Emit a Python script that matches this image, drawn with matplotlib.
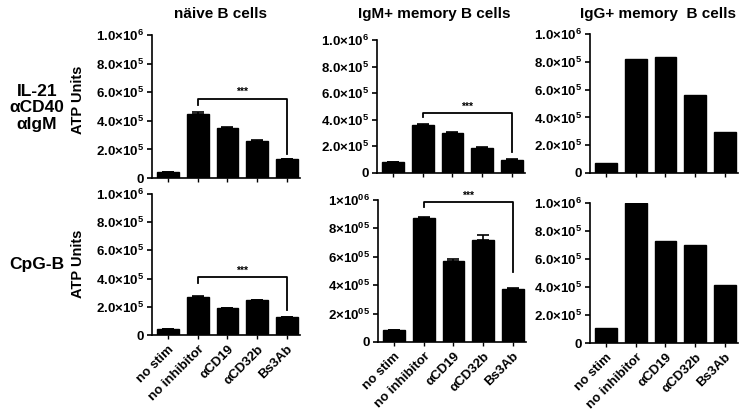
import matplotlib
matplotlib.use('Agg')
import matplotlib.pyplot as plt
import numpy as np

plt.rcParams['font.family'] = ['Liberation Sans', 'DejaVu Sans']
plt.rcParams['font.weight'] = 'bold'
plt.rcParams['mathtext.fontset'] = 'custom'
plt.rcParams['mathtext.rm'] = 'Liberation Sans:bold'
plt.rcParams['mathtext.it'] = 'Liberation Sans:bold'
plt.rcParams['mathtext.bf'] = 'Liberation Sans:bold'

# conditions on the x axis
categories = ['no stim', 'no inhibitor', 'αCD19', 'αCD32b', 'Bs3Ab']
col_titles = ['näive B cells', 'IgM+ memory B cells', 'IgG+ memory  B cells']
row_titles = ['IL-21\nαCD40\nαIgM', 'CpG-B']

# ATP units
naive_il21 = [0.04e6, 0.45e6, 0.35e6, 0.26e6, 0.13e6]
naive_il21_err = [0.002e6, 0.012e6, 0.004e6, 0.003e6, 0.004e6]
igm_il21 = [0.08e6, 0.36e6, 0.30e6, 0.19e6, 0.10e6]
igm_il21_err = [0.002e6, 0.006e6, 0.008e6, 0.006e6, 0.004e6]
igg_il21 = [0.072e6, 0.82e6, 0.835e6, 0.56e6, 0.295e6]

naive_cpg = [0.04e6, 0.27e6, 0.19e6, 0.245e6, 0.125e6]
naive_cpg_err = [0.002e6, 0.005e6, 0.003e6, 0.006e6, 0.003e6]
igm_cpg = [0.085e6, 0.875e6, 0.57e6, 0.72e6, 0.37e6]
igm_cpg_err = [0.002e6, 0.004e6, 0.012e6, 0.035e6, 0.008e6]
igg_cpg = [0.105e6, 1.0e6, 0.73e6, 0.70e6, 0.415e6]

# y tick labels
yticks = [0, 2e5, 4e5, 6e5, 8e5, 1e6]
ylabels_a = ['0', r'2.0×10$^{5}$', r'4.0×10$^{5}$', r'6.0×10$^{5}$',
             r'8.0×10$^{5}$', r'1.0×10$^{6}$']
ylabels_b = ['0', r'2×10$^{05}$', r'4×10$^{05}$', r'6×10$^{05}$',
             r'8×10$^{05}$', r'1×10$^{06}$']

# significance brackets: (line level, left drop end, right drop end)
br_naive_il21 = (0.555e6, 0.51e6, 0.17e6)
br_igm_il21 = (0.45e6, 0.42e6, 0.16e6)
br_naive_cpg = (0.41e6, 0.37e6, 0.18e6)
br_igm_cpg = (0.985e6, 0.95e6, 0.49e6)

W, H = 747, 413
fig = plt.figure(figsize=(W / 100, H / 100), dpi=100)


def add_ax(left, top, right, bottom):
    return fig.add_axes([left / W, 1 - bottom / H, (right - left) / W, (bottom - top) / H])


def panel(ax, vals, errs=None, ylabels=ylabels_a, bracket=None, show_x=False):
    x = np.arange(len(vals))
    ax.bar(x, vals, width=0.74, color='black', edgecolor='black', zorder=2)
    if errs is not None:
        ax.errorbar(x, vals, yerr=[np.zeros(len(vals)), errs], fmt='none',
                    ecolor='black', elinewidth=1.2, capsize=4, capthick=1.2, zorder=3)
    ax.set_xlim(-0.55, 4.45)
    ax.set_ylim(0, 1e6)
    ax.set_yticks(yticks)
    ax.set_yticklabels(ylabels, fontsize=9.5, fontweight='bold')
    ax.set_xticks(x)
    if show_x:
        ax.set_xticklabels(categories, rotation=45, ha='right', rotation_mode='anchor',
                           fontsize=9.5, fontweight='bold')
    else:
        ax.set_xticklabels([])
    for s in ['top', 'right']:
        ax.spines[s].set_visible(False)
    for s in ['left', 'bottom']:
        ax.spines[s].set_linewidth(1.2)
    ax.tick_params(axis='y', length=3.5, width=1.2, pad=2)
    ax.tick_params(axis='x', length=3, width=1, pad=3)
    if bracket is not None:
        lvl, ldrop, rdrop = bracket
        ax.plot([1, 1, 4, 4], [ldrop, lvl, lvl, rdrop], color='black', lw=1.3,
                clip_on=False, zorder=4)
        ax.text(2.5, lvl + 0.01e6, '***', ha='center', va='bottom', fontsize=7.5,
                fontweight='bold', clip_on=False)


ax1 = add_ax(152, 35, 300, 178)
ax2 = add_ax(377, 40, 525, 173)
ax3 = add_ax(590, 34, 738, 173)
ax4 = add_ax(152, 194, 300, 335)
ax5 = add_ax(378, 200, 526, 342)
ax6 = add_ax(590, 203, 738, 343)

panel(ax1, naive_il21, naive_il21_err, bracket=br_naive_il21)
panel(ax2, igm_il21, igm_il21_err, bracket=br_igm_il21)
panel(ax3, igg_il21)
panel(ax4, naive_cpg, naive_cpg_err, bracket=br_naive_cpg, show_x=True)
panel(ax5, igm_cpg, igm_cpg_err, ylabels=ylabels_b, bracket=br_igm_cpg, show_x=True)
panel(ax6, igg_cpg, show_x=True)

# column titles
for xc, t in zip([220, 434, 658], col_titles):
    fig.text(xc / W, 1 - 14 / H, t, ha='center', va='center', fontsize=11, fontweight='bold')

# row titles and y labels
fig.text(37 / W, 1 - 108 / H, row_titles[0], ha='center', va='center', fontsize=12.5,
         fontweight='bold', linespacing=1.1)
fig.text(37 / W, 1 - 265 / H, row_titles[1], ha='center', va='center', fontsize=12.5,
         fontweight='bold')
fig.text(78 / W, 1 - 100 / H, 'ATP Units', rotation=90, ha='center', va='center',
         fontsize=10.5, fontweight='bold')
fig.text(78 / W, 1 - 264 / H, 'ATP Units', rotation=90, ha='center', va='center',
         fontsize=10.5, fontweight='bold')

fig.savefig('out.png', dpi=100)
